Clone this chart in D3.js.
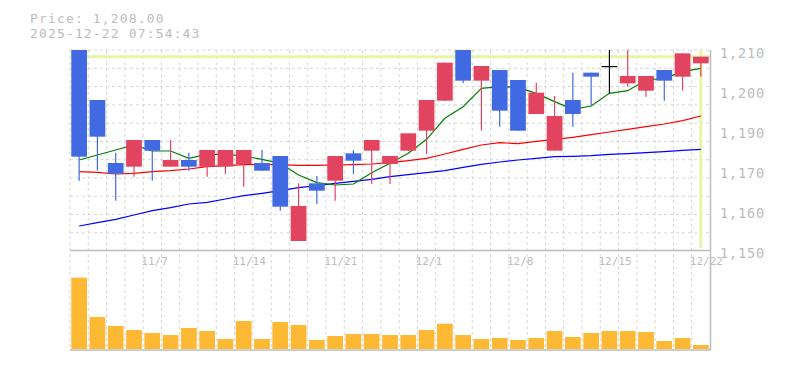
<!DOCTYPE html>
<html><head><meta charset="utf-8">
<script src="https://cdn.jsdelivr.net/npm/d3@7/dist/d3.min.js"></script>
<style>
html,body{margin:0;padding:0;background:#fff;}
svg{display:block;}
text{font-family:"DejaVu Sans Mono",monospace;fill:#bcbcbc;}
</style></head>
<body>
<svg id="chart" width="785" height="370"></svg>
<script>
const dates = ["10/31","11/4","11/5","11/6","11/7","11/10","11/11","11/12","11/13","11/14",
  "11/17","11/18","11/19","11/20","11/21","11/25","11/26","11/27","11/28","12/1",
  "12/2","12/3","12/4","12/5","12/8","12/9","12/10","12/11","12/12","12/15",
  "12/16","12/17","12/18","12/19","12/22"];
const open  = [1215,1195,1176.1,1175,1183,1175,1177,1175,1175,1175.8,
  1176.1,1178.2,1152.7,1170,1170.8,1179,1179.8,1175.8,1179.8,1185.8,
  1194.8,1212,1200.8,1204,1201,1190.8,1179.8,1195,1203.2,1205.2,
  1200,1197.8,1204,1202,1206];
const high  = [1216,1195,1179.2,1183,1183,1183,1179.2,1180,1180,1180,
  1180,1178.2,1170,1172.2,1178.2,1180,1183,1178.2,1185,1195,
  1206.2,1213,1205.2,1204,1201,1200.2,1196.2,1203.2,1203.2,1212,
  1212,1202.2,1204,1209,1208];
const low   = [1170.8,1173.8,1164.8,1172,1170.8,1175,1173.8,1172,1172.8,1169,
  1173.8,1161.8,1152.7,1163.8,1164.8,1172.8,1169.8,1169.8,1179.8,1178.8,
  1194.8,1200,1185.8,1187,1185.8,1190.8,1179.8,1187,1193.2,1197,
  1199,1196,1194.8,1197.8,1202];
const close = [1178,1184,1172.9,1183,1179.8,1177,1175,1180,1180,1180,
  1173.8,1163,1163.2,1167.8,1178.2,1176.8,1183,1178.2,1185,1195,
  1206.2,1200.8,1205.2,1191.8,1185.8,1197.2,1190.2,1190.8,1202,1205.2,
  1202.2,1202.2,1200.8,1209,1208];
const volume = [713,320,230,190,160,140,210,180,100,280,
  100,270,240,90,130,150,150,140,140,190,
  253,140,100,110,90,110,180,120,160,180,
  180,170,80,110,40];
const maShort = [1177,1178.5,1180,1181.5,1179.7,1179.7,1177.5,1178.7,1178.7,1178.2,
  1177.2,1176,1172.5,1170.2,1169.5,1169.8,1173.2,1176,1179,1183.2,
  1189.5,1193,1198.5,1199,1198.8,1197,1194.5,1192.2,1193.2,1197,
  1197.8,1201,1201.5,1203.5,1204.5];
const maMid = [1173.5,1173.3,1172.8,1173,1173.5,1173.8,1174.3,1175,1175.3,1175.6,
  1175.7,1175.6,1175.4,1175.4,1175.5,1175.6,1175.8,1176.2,1176.8,1177.5,
  1178.8,1180.2,1181.5,1182.2,1181.9,1182.6,1183.2,1183.8,1184.6,1185.4,
  1186.2,1187,1187.8,1188.8,1190.2];
const maLong = [1157.2,1158.2,1159.2,1160.5,1161.8,1162.7,1163.8,1164.3,1165.3,1166.3,
  1167,1167.8,1168.7,1169.3,1170,1170.6,1171.2,1172,1172.6,1173.2,
  1173.8,1174.8,1175.7,1176.4,1177,1177.5,1178,1178.1,1178.3,1178.7,
  1178.9,1179.2,1179.5,1179.9,1180.2];
const yTickValues = [1210,1198,1186,1174,1162,1150];
const yTickLabels = ["1,210","1,200","1,190","1,170","1,160","1,150"];
const xTickLabels = ["11/7","11/14","11/21","12/1","12/8","12/15","12/22"];
const currentPrice = 1208;
const headerLines = ["Price: 1,208.00","2025-12-22 07:54:43"];

const svg = d3.select("#chart");
const L = 70, R = 710, PT = 50, PB = 250, VT = 250, VB = 349;

const x = d3.scaleBand().domain(dates).range([L, R]).paddingInner(0.14).paddingOuter(0.07);
const step = x.step();
const cx = d => x(d) + x.bandwidth() / 2;
const y = d3.scaleLinear().domain([1150, 1210]).range([PB, PT]);
const yv = d3.scaleLinear().domain([0, 800]).range([VB, VB - 80]);

const gridColor = "#d6d6d6";
const vLines = d3.range(0, dates.length).map(k => L + k * step);
svg.append("g").selectAll("line").data(vLines).join("line")
  .attr("x1", d => d).attr("x2", d => d).attr("y1", PT).attr("y2", VB + 1)
  .attr("stroke", gridColor).attr("stroke-width", 1).attr("stroke-dasharray", "3,3");
const hLines = d3.range(0, 11).map(k => PT + k * step);
svg.append("g").selectAll("line").data(hLines).join("line")
  .attr("x1", L).attr("x2", R).attr("y1", d => d).attr("y2", d => d)
  .attr("stroke", gridColor).attr("stroke-width", 1).attr("stroke-dasharray", "3,3");

svg.append("defs").append("clipPath").attr("id", "pclip")
  .append("rect").attr("x", L).attr("y", PT).attr("width", R - L).attr("height", PB - PT - 2);

const pg = svg.append("g").attr("clip-path", "url(#pclip)");
const last = dates[dates.length - 1];
pg.append("line").attr("x1", L).attr("x2", R).attr("y1", y(currentPrice)).attr("y2", y(currentPrice))
  .attr("stroke", "#e6f5a6").attr("stroke-width", 3);
pg.append("line").attr("x1", cx(last)).attr("x2", cx(last)).attr("y1", PT).attr("y2", PB)
  .attr("stroke", "#e6f5a6").attr("stroke-width", 3);

const maDefs = [[maLong, "#0000ff"], [maMid, "#ff0000"], [maShort, "#008000"]];
maDefs.forEach(([arr, col]) => {
  pg.append("path").datum(arr)
    .attr("d", d3.line().x((d, i) => cx(dates[i])).y(d => y(d)))
    .attr("fill", "none").attr("stroke", col).attr("stroke-width", 1.2);
});

const candles = dates.map((d, i) => ({d, o: open[i], h: high[i], l: low[i], c: close[i]}));
const colorOf = k => k.c > k.o ? "#e2435f" : (k.c < k.o ? "#4169e1" : "#000000");
const cg = pg.append("g").selectAll("g").data(candles).join("g");
cg.append("line")
  .attr("x1", k => cx(k.d)).attr("x2", k => cx(k.d))
  .attr("y1", k => y(k.h)).attr("y2", k => y(k.l))
  .attr("stroke", k => colorOf(k)).attr("stroke-width", 1.2);
cg.append("rect")
  .attr("x", k => x(k.d)).attr("width", x.bandwidth())
  .attr("y", k => y(Math.max(k.o, k.c)))
  .attr("height", k => Math.max(1.2, Math.abs(y(k.o) - y(k.c))))
  .attr("fill", k => colorOf(k));

svg.append("g").selectAll("rect").data(volume).join("rect")
  .attr("x", (v, i) => x(dates[i])).attr("width", x.bandwidth())
  .attr("y", v => yv(v)).attr("height", v => yv(0) - yv(v))
  .attr("fill", "#fdb933");

const frame = "#bdbdbd";
svg.append("line").attr("x1", L).attr("x2", R + 1).attr("y1", VT + 0.5).attr("y2", VT + 0.5).attr("stroke", frame).attr("stroke-width", 1.5);
svg.append("line").attr("x1", L).attr("x2", R + 1).attr("y1", VB + 1).attr("y2", VB + 1).attr("stroke", frame).attr("stroke-width", 1.5);
svg.append("line").attr("x1", R + 0.5).attr("x2", R + 0.5).attr("y1", PT).attr("y2", VB + 1).attr("stroke", frame).attr("stroke-width", 1.5);

svg.append("g").selectAll("text").data(yTickValues).join("text")
  .attr("x", R + 10).attr("y", v => y(v) + 8)
  .style("font-size", "13.5px").style("letter-spacing", "0.9px")
  .text((v, i) => yTickLabels[i]);

svg.append("g").selectAll("text").data(xTickLabels).join("text")
  .attr("x", d => cx(d) - 11).attr("y", 265)
  .style("font-size", "11px")
  .text(d => d);

svg.append("g").selectAll("text").data(headerLines).join("text")
  .attr("x", 30).attr("y", (d, i) => 23 + i * 15)
  .style("font-size", "13px").style("letter-spacing", "1.15px")
  .text(d => d);
</script>
</body></html>
